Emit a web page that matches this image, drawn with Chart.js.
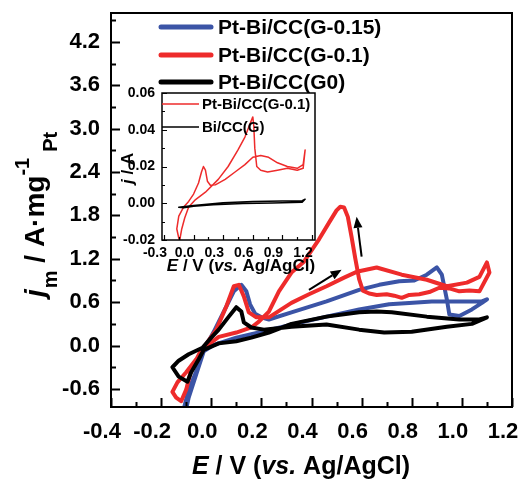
<!DOCTYPE html>
<html>
<head>
<meta charset="utf-8">
<script src="https://cdn.jsdelivr.net/npm/chart.js@4.4.1/dist/chart.umd.min.js"></script>
<style>
html,body{margin:0;padding:0;background:#fff;}
#wrap{position:relative;width:521px;height:480px;}
#wrap canvas{position:absolute;left:0;top:0;}
</style>
</head>
<body>
<div id="wrap">
<canvas id="mainChart" width="521" height="480"></canvas>
<canvas id="insetChart" width="521" height="480"></canvas>
</div>
<script>
// ======================================
// Data
// ======================================

const seriesLabels = ["Pt-Bi/CC(G-0.15)", "Pt-Bi/CC(G-0.1)", "Pt-Bi/CC(G0)"];
const insetLabels = ["Pt-Bi/CC(G-0.1)", "Bi/CC(G)"];

// Pt-Bi/CC(G-0.15) : potential (V) and current (A/mg Pt)
const g015E = [-0.115,-0.09,-0.06,-0.03,0.01,0.05,0.09,0.12,0.14,0.155,0.175,0.20,0.23,0.32,0.46,0.59,0.67,0.75,0.81,0.86,0.90,0.92,0.94,0.95,0.99,1.04,1.08,1.10,
               1.08,0.99,0.88,0.79,0.71,0.59,0.46,0.32,0.19,0.10,0.01,-0.03,-0.06,-0.09,-0.105];
const g015J = [-0.95,-0.61,-0.36,-0.06,0.19,0.47,0.75,0.84,0.75,0.57,0.44,0.39,0.36,0.46,0.61,0.77,0.84,0.89,0.90,0.98,1.08,0.98,0.64,0.43,0.41,0.50,0.59,0.64,
               0.61,0.61,0.61,0.59,0.57,0.50,0.40,0.29,0.18,0.11,0.01,-0.08,-0.40,-0.72,-0.95];

// Pt-Bi/CC(G-0.1)
const g01E = [-0.155,-0.135,-0.10,-0.06,-0.03,0.02,0.06,0.09,0.11,0.13,0.15,0.18,0.23,0.32,0.39,0.46,0.53,0.58,0.66,0.76,0.86,0.94,1.02,1.07,1.10,
              1.11,1.07,1.03,0.99,0.95,0.91,0.87,0.83,0.79,0.76,0.73,0.70,0.66,0.63,0.605,0.59,0.575,0.56,0.545,0.53,
              0.515,0.50,0.47,0.43,0.37,0.32,0.27,0.23,0.19,0.16,0.10,0.03,-0.04,-0.08,-0.10,-0.12,-0.14,-0.155];
const g01J = [-0.64,-0.51,-0.37,-0.19,-0.03,0.22,0.54,0.82,0.84,0.68,0.46,0.39,0.39,0.59,0.71,0.82,0.94,1.02,1.08,0.98,0.91,0.82,0.87,0.95,1.15,
              1.01,0.75,0.76,0.75,0.79,0.80,0.74,0.71,0.70,0.66,0.69,0.71,0.70,0.72,0.76,0.92,1.20,1.50,1.78,1.91,
              1.92,1.87,1.70,1.47,1.16,1.01,0.75,0.47,0.33,0.25,0.18,0.12,-0.06,-0.33,-0.61,-0.77,-0.72,-0.64];

// Pt-Bi/CC(G0)
const g0E = [-0.155,-0.13,-0.09,-0.035,0.0,0.03,0.07,0.10,0.12,0.13,0.16,0.21,0.32,0.46,0.59,0.69,0.80,0.94,1.04,1.10,
             1.07,0.99,0.86,0.72,0.66,0.59,0.46,0.32,0.23,0.16,0.10,0.03,-0.03,-0.05,-0.08,-0.095,-0.13,-0.155];
const g0J = [-0.30,-0.21,-0.12,-0.03,0.11,0.22,0.40,0.53,0.47,0.32,0.25,0.22,0.26,0.29,0.22,0.18,0.19,0.26,0.30,0.39,
             0.36,0.36,0.40,0.46,0.47,0.46,0.40,0.30,0.18,0.11,0.06,0.03,-0.06,-0.19,-0.37,-0.50,-0.43,-0.30];

// Inset: Pt-Bi/CC(G-0.1), current in A
const insetG01E = [-0.15,-0.17,-0.15,-0.10,-0.05,0.0,0.05,0.08,0.10,0.12,0.14,0.17,0.22,0.32,0.42,0.52,0.60,0.68,0.76,0.85,0.95,1.05,1.11,1.13,
                   1.11,1.05,0.95,0.85,0.75,0.68,0.64,0.62,0.61,0.60,0.57,0.52,0.45,0.35,0.25,0.12,0.02,-0.05,-0.09,-0.12,-0.14,-0.15];
const insetG01J = [-0.019,-0.014,-0.007,-0.002,0.001,0.005,0.011,0.017,0.020,0.018,0.012,0.0098,0.010,0.013,0.017,0.021,0.025,0.026,0.025,0.022,0.020,0.019,0.021,0.029,
                   0.019,0.018,0.019,0.018,0.017,0.018,0.020,0.030,0.042,0.047,0.043,0.036,0.029,0.020,0.013,0.006,0.002,-0.002,-0.008,-0.014,-0.020,-0.019];

// Inset: Bi/CC(G)
const insetBiE = [-0.15,0.0,0.3,0.6,0.9,1.1,1.13,1.1,0.8,0.5,0.2,0.0,-0.1,-0.15];
const insetBiJ = [-0.0022,-0.0012,0.0003,0.0010,0.0012,0.0014,0.0022,0.0006,0.0002,-0.0002,-0.0008,-0.0016,-0.0024,-0.0022];

// Tick values
const xTicks = [-0.4,-0.2,0.0,0.2,0.4,0.6,0.8,1.0,1.2];
const xMinor = [-0.3,-0.1,0.1,0.3,0.5,0.7,0.9,1.1];
const yTicks = [-0.6,0.0,0.6,1.2,1.8,2.4,3.0,3.6,4.2];
const yMinor = [-0.3,0.3,0.9,1.5,2.1,2.7,3.3,3.9,4.5];
const insetXTicks = [-0.3,0.0,0.3,0.6,0.9,1.2];
const insetXMinor = [-0.15,0.15,0.45,0.75,1.05];
const insetYTicks = [-0.02,0.0,0.02,0.04,0.06];
const insetYMinor = [-0.01,0.01,0.03,0.05];

// Scan direction arrows (potential, current)
const arrowFromE = [0.39, 0.60];
const arrowFromJ = [0.77, 1.23];
const arrowToE = [0.52, 0.58];
const arrowToJ = [1.05, 1.78];

// ======================================
// Helpers
// ======================================

const FONT = "'Liberation Sans', Arial, sans-serif";
const BLUE = "#3b54a6";
const RED = "#ee2b2b";
const BLACK = "#000000";

Chart.defaults.font.family = FONT;
Chart.defaults.color = "#000";

function fontStr(size, italic){
    return (italic ? "italic " : "") + "bold " + size + "px " + FONT;
}

function toPoints(es, js){
    return es.map((e, i) => ({ x: e, y: js[i] }));
}

function makeSet(label, es, js, color, width, order){
    return {
        label: label,
        data: toPoints(es, js),
        showLine: true,
        borderColor: color,
        backgroundColor: color,
        borderWidth: width,
        pointRadius: 0,
        tension: 0,
        fill: false,
        borderJoinStyle: "round",
        borderCapStyle: "round",
        order: order
    };
}

function drawParts(ctx, parts, x, y, centered){
    let total = 0;
    parts.forEach(p => {
        ctx.font = p.font;
        p.w = ctx.measureText(p.text).width;
        total += p.w + (p.gap || 0);
    });
    let cx = centered ? x - total / 2 : x;
    parts.forEach(p => {
        ctx.font = p.font;
        ctx.fillText(p.text, cx, y + (p.dy || 0));
        cx += p.w + (p.gap || 0);
    });
}

function drawTickMarks(chart, xs, ys, len){
    const ctx = chart.ctx;
    const a = chart.chartArea;
    const sx = chart.scales.x;
    const sy = chart.scales.y;
    ctx.beginPath();
    xs.forEach(v => {
        const px = Math.round(sx.getPixelForValue(v)) + 0.5;
        ctx.moveTo(px, a.bottom);
        ctx.lineTo(px, a.bottom - len);
    });
    ys.forEach(v => {
        const py = Math.round(sy.getPixelForValue(v)) + 0.5;
        ctx.moveTo(a.left, py);
        ctx.lineTo(a.left + len, py);
    });
    ctx.stroke();
}

function drawArrow(ctx, x1, y1, x2, y2){
    const ang = Math.atan2(y2 - y1, x2 - x1);
    const head = 11;
    const half = 4.5;
    const bx = x2 - head * Math.cos(ang);
    const by = y2 - head * Math.sin(ang);
    ctx.beginPath();
    ctx.moveTo(x1, y1);
    ctx.lineTo(bx, by);
    ctx.stroke();
    ctx.beginPath();
    ctx.moveTo(x2, y2);
    ctx.lineTo(bx + half * Math.sin(ang), by - half * Math.cos(ang));
    ctx.lineTo(bx - half * Math.sin(ang), by + half * Math.cos(ang));
    ctx.closePath();
    ctx.fill();
}

function axisOptions(min, max, values, size, pad, offset, fitSize, horizontal){
    return {
        type: "linear",
        min: min,
        max: max,
        grid: { display: false, drawTicks: false },
        border: { display: false },
        afterBuildTicks: s => { s.ticks = values.map(v => ({ value: v })); },
        afterFit: s => {
            if(horizontal){ s.height = fitSize; } else { s.width = fitSize; }
            s.paddingLeft = 0; s.paddingRight = 0;
            s.paddingTop = 0; s.paddingBottom = 0;
        },
        ticks: {
            font: { size: size, weight: "bold" },
            color: "#000",
            padding: pad,
            labelOffset: offset,
            autoSkip: false,
            maxRotation: 0,
            callback: v => v.toFixed(max < 1 ? 2 : 1)
        }
    };
}

// ======================================
// Main chart decorations
// ======================================

const mainDecor = {
    id: "mainDecor",
    afterDraw(chart){
        const ctx = chart.ctx;
        const a = chart.chartArea;
        const sx = chart.scales.x;
        const sy = chart.scales.y;

        ctx.save();
        ctx.strokeStyle = "#000";
        ctx.fillStyle = "#000";

        // frame
        ctx.lineWidth = 2;
        ctx.strokeRect(a.left, a.top, a.right - a.left, a.bottom - a.top);

        // ticks
        ctx.lineWidth = 2;
        drawTickMarks(chart, xTicks, yTicks, 9);
        drawTickMarks(chart, xMinor, yMinor, 5);

        // arrows
        ctx.lineWidth = 2;
        for(let i = 0; i < arrowFromE.length; i++){
            drawArrow(ctx,
                sx.getPixelForValue(arrowFromE[i]), sy.getPixelForValue(arrowFromJ[i]),
                sx.getPixelForValue(arrowToE[i]), sy.getPixelForValue(arrowToJ[i]));
        }

        // legend
        ctx.textBaseline = "middle";
        ctx.textAlign = "left";
        ctx.lineCap = "round";
        const rows = [27, 55, 82];
        chart.data.datasets.forEach((ds, i) => {
            ctx.strokeStyle = ds.borderColor;
            ctx.lineWidth = 5;
            ctx.beginPath();
            ctx.moveTo(161, rows[i]);
            ctx.lineTo(211, rows[i]);
            ctx.stroke();
            ctx.font = fontStr(21);
            ctx.fillText(ds.label, 218, rows[i] + 1);
        });

        // x title
        ctx.textBaseline = "alphabetic";
        drawParts(ctx, [
            { text: "E", font: fontStr(25, true) },
            { text: " / V (", font: fontStr(25) },
            { text: "vs.", font: fontStr(25, true) },
            { text: " Ag/AgCl)", font: fontStr(25) }
        ], 301, 474, true);

        // y title
        ctx.translate(44, 297);
        ctx.rotate(-Math.PI / 2);
        drawParts(ctx, [
            { text: "j", font: fontStr(28, true), gap: 1 },
            { text: "m", font: fontStr(20), dy: 13 },
            { text: " / A\u00b7mg", font: fontStr(28) },
            { text: "-1", font: fontStr(20), dy: -15, gap: 6 },
            { text: "Pt", font: fontStr(20), dy: 13 }
        ], 0, 0, false);

        ctx.restore();
    }
};

// ======================================
// Inset decorations
// ======================================

const insetDecor = {
    id: "insetDecor",
    beforeDatasetsDraw(chart){
        const ctx = chart.ctx;
        const a = chart.chartArea;
        ctx.save();
        ctx.fillStyle = "#fff";
        ctx.fillRect(a.left, a.top, a.right - a.left, a.bottom - a.top);
        ctx.restore();
    },
    afterDraw(chart){
        const ctx = chart.ctx;
        const a = chart.chartArea;

        ctx.save();
        ctx.strokeStyle = "#000";
        ctx.fillStyle = "#000";

        ctx.lineWidth = 1.5;
        ctx.strokeRect(a.left, a.top, a.right - a.left, a.bottom - a.top);

        ctx.lineWidth = 1.2;
        drawTickMarks(chart, insetXTicks, insetYTicks, 5);
        drawTickMarks(chart, insetXMinor, insetYMinor, 3);

        // legend
        ctx.textBaseline = "middle";
        ctx.textAlign = "left";
        const rows = [104, 127];
        chart.data.datasets.forEach((ds, i) => {
            ctx.strokeStyle = ds.borderColor;
            ctx.lineWidth = 1.5;
            ctx.beginPath();
            ctx.moveTo(162, rows[i]);
            ctx.lineTo(199, rows[i]);
            ctx.stroke();
            ctx.font = fontStr(15);
            ctx.fillText(ds.label, 202, rows[i] + 1);
        });

        // x title
        ctx.textBaseline = "alphabetic";
        drawParts(ctx, [
            { text: "E", font: fontStr(17, true) },
            { text: " / V (", font: fontStr(17) },
            { text: "vs.", font: fontStr(17, true) },
            { text: " Ag/AgCl)", font: fontStr(17) }
        ], 241, 271, true);

        // y title
        ctx.translate(133, 184);
        ctx.rotate(-Math.PI / 2);
        drawParts(ctx, [
            { text: "j", font: fontStr(17, true) },
            { text: " / A", font: fontStr(17) }
        ], 0, 0, false);

        ctx.restore();
    }
};

// ======================================
// Create Charts
// ======================================

const mainChart = new Chart(document.getElementById("mainChart"), {
    type: "scatter",
    data: {
        datasets: [
            makeSet(seriesLabels[0], g015E, g015J, BLUE, 4, 3),
            makeSet(seriesLabels[1], g01E, g01J, RED, 4, 2),
            makeSet(seriesLabels[2], g0E, g0J, BLACK, 4, 1)
        ]
    },
    options: {
        responsive: false,
        animation: false,
        devicePixelRatio: 1,
        layout: { padding: { left: 0, right: 9, top: 13, bottom: 0 } },
        plugins: { legend: { display: false }, tooltip: { enabled: false } },
        scales: {
            x: axisOptions(-0.4, 1.2, xTicks, 22, 12, -9, 73, true),
            y: axisOptions(-0.85, 4.6, yTicks, 22, 11, 0, 111, false)
        }
    },
    plugins: [mainDecor]
});

const insetChart = new Chart(document.getElementById("insetChart"), {
    type: "scatter",
    data: {
        datasets: [
            makeSet(insetLabels[0], insetG01E, insetG01J, RED, 1.5, 2),
            makeSet(insetLabels[1], insetBiE, insetBiJ, BLACK, 1.5, 1)
        ]
    },
    options: {
        responsive: false,
        animation: false,
        devicePixelRatio: 1,
        layout: { padding: { left: 122, right: 206, top: 93, bottom: 210 } },
        plugins: { legend: { display: false }, tooltip: { enabled: false } },
        scales: {
            x: axisOptions(-0.32, 1.23, insetXTicks, 14, 5, -9, 30, true),
            y: axisOptions(-0.02, 0.06, insetYTicks, 14, 7, 0, 40, false)
        }
    },
    plugins: [insetDecor]
});
</script>
</body>
</html>
